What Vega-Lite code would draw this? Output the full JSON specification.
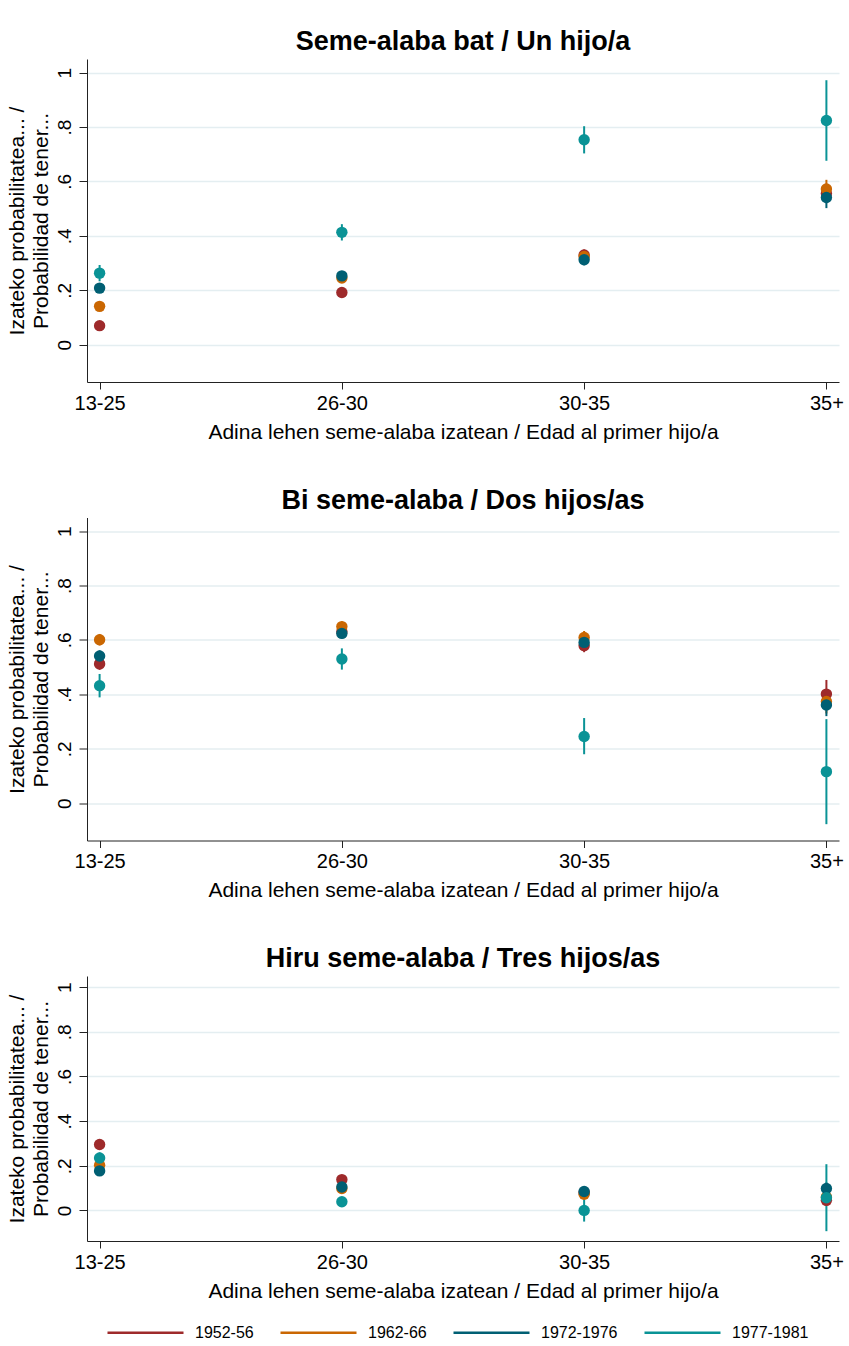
{
  "$schema": "https://vega.github.io/schema/vega-lite/v6.json",
  "background": "white",
  "padding": {"left": 5, "top": 28, "right": 5, "bottom": 5},
  "datasets": {
    "d": [
      {"panel": 1, "age": "13-25", "cohort": "1952-56", "p": 0.070, "lo": 0.055, "hi": 0.085},
      {"panel": 1, "age": "13-25", "cohort": "1962-66", "p": 0.141, "lo": 0.125, "hi": 0.157},
      {"panel": 1, "age": "13-25", "cohort": "1972-1976", "p": 0.208, "lo": 0.190, "hi": 0.226},
      {"panel": 1, "age": "13-25", "cohort": "1977-1981", "p": 0.263, "lo": 0.233, "hi": 0.293},
      {"panel": 1, "age": "26-30", "cohort": "1952-56", "p": 0.192, "lo": 0.175, "hi": 0.209},
      {"panel": 1, "age": "26-30", "cohort": "1962-66", "p": 0.245, "lo": 0.228, "hi": 0.262},
      {"panel": 1, "age": "26-30", "cohort": "1972-1976", "p": 0.253, "lo": 0.236, "hi": 0.270},
      {"panel": 1, "age": "26-30", "cohort": "1977-1981", "p": 0.413, "lo": 0.383, "hi": 0.443},
      {"panel": 1, "age": "30-35", "cohort": "1952-56", "p": 0.330, "lo": 0.310, "hi": 0.350},
      {"panel": 1, "age": "30-35", "cohort": "1962-66", "p": 0.324, "lo": 0.304, "hi": 0.344},
      {"panel": 1, "age": "30-35", "cohort": "1972-1976", "p": 0.312, "lo": 0.292, "hi": 0.332},
      {"panel": 1, "age": "30-35", "cohort": "1977-1981", "p": 0.753, "lo": 0.703, "hi": 0.803},
      {"panel": 1, "age": "35+", "cohort": "1952-56", "p": 0.556, "lo": 0.520, "hi": 0.592},
      {"panel": 1, "age": "35+", "cohort": "1962-66", "p": 0.572, "lo": 0.538, "hi": 0.606},
      {"panel": 1, "age": "35+", "cohort": "1972-1976", "p": 0.541, "lo": 0.502, "hi": 0.580},
      {"panel": 1, "age": "35+", "cohort": "1977-1981", "p": 0.824, "lo": 0.676, "hi": 0.972},
      {"panel": 2, "age": "13-25", "cohort": "1952-56", "p": 0.512, "lo": 0.490, "hi": 0.534},
      {"panel": 2, "age": "13-25", "cohort": "1962-66", "p": 0.601, "lo": 0.580, "hi": 0.622},
      {"panel": 2, "age": "13-25", "cohort": "1972-1976", "p": 0.541, "lo": 0.520, "hi": 0.562},
      {"panel": 2, "age": "13-25", "cohort": "1977-1981", "p": 0.432, "lo": 0.389, "hi": 0.475},
      {"panel": 2, "age": "26-30", "cohort": "1952-56", "p": 0.630, "lo": 0.610, "hi": 0.650},
      {"panel": 2, "age": "26-30", "cohort": "1962-66", "p": 0.649, "lo": 0.630, "hi": 0.668},
      {"panel": 2, "age": "26-30", "cohort": "1972-1976", "p": 0.624, "lo": 0.605, "hi": 0.643},
      {"panel": 2, "age": "26-30", "cohort": "1977-1981", "p": 0.530, "lo": 0.491, "hi": 0.569},
      {"panel": 2, "age": "30-35", "cohort": "1952-56", "p": 0.579, "lo": 0.555, "hi": 0.603},
      {"panel": 2, "age": "30-35", "cohort": "1962-66", "p": 0.609, "lo": 0.585, "hi": 0.633},
      {"panel": 2, "age": "30-35", "cohort": "1972-1976", "p": 0.591, "lo": 0.567, "hi": 0.615},
      {"panel": 2, "age": "30-35", "cohort": "1977-1981", "p": 0.245, "lo": 0.180, "hi": 0.313},
      {"panel": 2, "age": "35+", "cohort": "1952-56", "p": 0.401, "lo": 0.349, "hi": 0.453},
      {"panel": 2, "age": "35+", "cohort": "1962-66", "p": 0.374, "lo": 0.330, "hi": 0.418},
      {"panel": 2, "age": "35+", "cohort": "1972-1976", "p": 0.361, "lo": 0.320, "hi": 0.402},
      {"panel": 2, "age": "35+", "cohort": "1977-1981", "p": 0.116, "lo": -0.077, "hi": 0.309},
      {"panel": 3, "age": "13-25", "cohort": "1952-56", "p": 0.295, "lo": 0.275, "hi": 0.315},
      {"panel": 3, "age": "13-25", "cohort": "1962-66", "p": 0.202, "lo": 0.185, "hi": 0.219},
      {"panel": 3, "age": "13-25", "cohort": "1972-1976", "p": 0.177, "lo": 0.160, "hi": 0.194},
      {"panel": 3, "age": "13-25", "cohort": "1977-1981", "p": 0.235, "lo": 0.210, "hi": 0.260},
      {"panel": 3, "age": "26-30", "cohort": "1952-56", "p": 0.138, "lo": 0.125, "hi": 0.151},
      {"panel": 3, "age": "26-30", "cohort": "1962-66", "p": 0.098, "lo": 0.085, "hi": 0.111},
      {"panel": 3, "age": "26-30", "cohort": "1972-1976", "p": 0.105, "lo": 0.092, "hi": 0.118},
      {"panel": 3, "age": "26-30", "cohort": "1977-1981", "p": 0.039, "lo": 0.020, "hi": 0.058},
      {"panel": 3, "age": "30-35", "cohort": "1952-56", "p": 0.080, "lo": 0.068, "hi": 0.092},
      {"panel": 3, "age": "30-35", "cohort": "1962-66", "p": 0.072, "lo": 0.060, "hi": 0.084},
      {"panel": 3, "age": "30-35", "cohort": "1972-1976", "p": 0.085, "lo": 0.073, "hi": 0.097},
      {"panel": 3, "age": "30-35", "cohort": "1977-1981", "p": 0.000, "lo": -0.050, "hi": 0.050},
      {"panel": 3, "age": "35+", "cohort": "1952-56", "p": 0.045, "lo": 0.020, "hi": 0.070},
      {"panel": 3, "age": "35+", "cohort": "1962-66", "p": 0.060, "lo": 0.035, "hi": 0.085},
      {"panel": 3, "age": "35+", "cohort": "1972-1976", "p": 0.098, "lo": 0.070, "hi": 0.126},
      {"panel": 3, "age": "35+", "cohort": "1977-1981", "p": 0.057, "lo": -0.093, "hi": 0.207}
    ]
  },
  "data": {"name": "d"},
  "spacing": 44.5,
  "vconcat": [
    {
      "title": "Seme-alaba bat / Un hijo/a",
      "width": 752, "height": 323,
      "transform": [{"filter": "datum.panel == 1"}],
      "encoding": {
        "x": {"field": "age", "type": "ordinal", "sort": ["13-25", "26-30", "30-35", "35+"], "scale": {"type": "point", "padding": 0.052}, "title": "Adina lehen seme-alaba izatean / Edad al primer hijo/a"},
        "color": {"field": "cohort", "type": "nominal", "sort": ["1952-56", "1962-66", "1972-1976", "1977-1981"]}
      },
      "layer": [
        {"mark": {"type": "rule", "strokeWidth": 2}, "encoding": {
          "y": {"field": "lo", "type": "quantitative", "scale": {"domain": [-0.137, 1.05], "nice": false, "zero": false}, "axis": {"values": [0, 0.2, 0.4, 0.6, 0.8, 1], "labelExpr": "datum.value == 0 ? '0' : datum.value == 1 ? '1' : replace(format(datum.value, '.1f'), '0.', '.')"}, "title": ["Izateko probabilitatea... /", "Probabilidad de tener..."]},
          "y2": {"field": "hi"}}},
        {"mark": {"type": "point", "filled": true, "size": 130, "opacity": 1}, "encoding": {
          "y": {"field": "p", "type": "quantitative", "scale": {"domain": [-0.137, 1.05], "nice": false, "zero": false}, "axis": {"values": [0, 0.2, 0.4, 0.6, 0.8, 1], "labelExpr": "datum.value == 0 ? '0' : datum.value == 1 ? '1' : replace(format(datum.value, '.1f'), '0.', '.')"}, "title": ["Izateko probabilitatea... /", "Probabilidad de tener..."]}}}
      ]
    },
    {
      "title": "Bi seme-alaba / Dos hijos/as",
      "width": 752, "height": 323,
      "transform": [{"filter": "datum.panel == 2"}],
      "encoding": {
        "x": {"field": "age", "type": "ordinal", "sort": ["13-25", "26-30", "30-35", "35+"], "scale": {"type": "point", "padding": 0.052}, "title": "Adina lehen seme-alaba izatean / Edad al primer hijo/a"},
        "color": {"field": "cohort", "type": "nominal", "sort": ["1952-56", "1962-66", "1972-1976", "1977-1981"]}
      },
      "layer": [
        {"mark": {"type": "rule", "strokeWidth": 2}, "encoding": {
          "y": {"field": "lo", "type": "quantitative", "scale": {"domain": [-0.137, 1.05], "nice": false, "zero": false}, "axis": {"values": [0, 0.2, 0.4, 0.6, 0.8, 1], "labelExpr": "datum.value == 0 ? '0' : datum.value == 1 ? '1' : replace(format(datum.value, '.1f'), '0.', '.')"}, "title": ["Izateko probabilitatea... /", "Probabilidad de tener..."]},
          "y2": {"field": "hi"}}},
        {"mark": {"type": "point", "filled": true, "size": 130, "opacity": 1}, "encoding": {
          "y": {"field": "p", "type": "quantitative", "scale": {"domain": [-0.137, 1.05], "nice": false, "zero": false}, "axis": {"values": [0, 0.2, 0.4, 0.6, 0.8, 1], "labelExpr": "datum.value == 0 ? '0' : datum.value == 1 ? '1' : replace(format(datum.value, '.1f'), '0.', '.')"}, "title": ["Izateko probabilitatea... /", "Probabilidad de tener..."]}}}
      ]
    },
    {
      "title": "Hiru seme-alaba / Tres hijos/as",
      "width": 752, "height": 265,
      "transform": [{"filter": "datum.panel == 3"}],
      "encoding": {
        "x": {"field": "age", "type": "ordinal", "sort": ["13-25", "26-30", "30-35", "35+"], "scale": {"type": "point", "padding": 0.052}, "title": "Adina lehen seme-alaba izatean / Edad al primer hijo/a"},
        "color": {"field": "cohort", "type": "nominal", "sort": ["1952-56", "1962-66", "1972-1976", "1977-1981"]}
      },
      "layer": [
        {"mark": {"type": "rule", "strokeWidth": 2}, "encoding": {
          "y": {"field": "lo", "type": "quantitative", "scale": {"domain": [-0.137, 1.05], "nice": false, "zero": false}, "axis": {"values": [0, 0.2, 0.4, 0.6, 0.8, 1], "labelExpr": "datum.value == 0 ? '0' : datum.value == 1 ? '1' : replace(format(datum.value, '.1f'), '0.', '.')"}, "title": ["Izateko probabilitatea... /", "Probabilidad de tener..."]},
          "y2": {"field": "hi"}}},
        {"mark": {"type": "point", "filled": true, "size": 130, "opacity": 1}, "encoding": {
          "y": {"field": "p", "type": "quantitative", "scale": {"domain": [-0.137, 1.05], "nice": false, "zero": false}, "axis": {"values": [0, 0.2, 0.4, 0.6, 0.8, 1], "labelExpr": "datum.value == 0 ? '0' : datum.value == 1 ? '1' : replace(format(datum.value, '.1f'), '0.', '.')"}, "title": ["Izateko probabilitatea... /", "Probabilidad de tener..."]}}}
      ]
    }
  ],
  "resolve": {"scale": {"y": "independent"}},
  "config": {
    "font": "Liberation Sans",
    "view": {"stroke": null},
    "title": {"fontSize": 27, "fontWeight": "bold", "font": "Liberation Sans", "color": "#000", "offset": 3, "anchor": "middle"},
    "range": {"category": ["#9e2a2b", "#ca6702", "#005f73", "#0a9396"]},
    "axisX": {"labelAngle": 0, "labelFontSize": 20, "titleFontSize": 21, "titleFontWeight": "normal", "labelColor": "#000", "titleColor": "#000", "domainColor": "#222", "tickColor": "#222", "tickSize": 7, "grid": false, "labelPadding": 4, "titlePadding": 8},
    "axisY": {"labelAngle": 270, "labelFontSize": 19, "titleFontSize": 21, "titleFontWeight": "normal", "titleLineHeight": 24, "labelColor": "#000", "titleColor": "#000", "domainColor": "#222", "tickColor": "#222", "tickSize": 8, "labelPadding": 5, "titlePadding": 4, "grid": true, "gridColor": "#e4eef1", "gridWidth": 1.5},
    "legend": {"orient": "none", "legendX": 19, "legendY": 1234, "direction": "horizontal", "title": null, "symbolType": "M-1,0H1", "symbolSize": 5776, "symbolStrokeWidth": 2.5, "labelFontSize": 16, "labelColor": "#000", "columnPadding": 21, "labelOffset": 10}
  },
  "encoding": {}
}
